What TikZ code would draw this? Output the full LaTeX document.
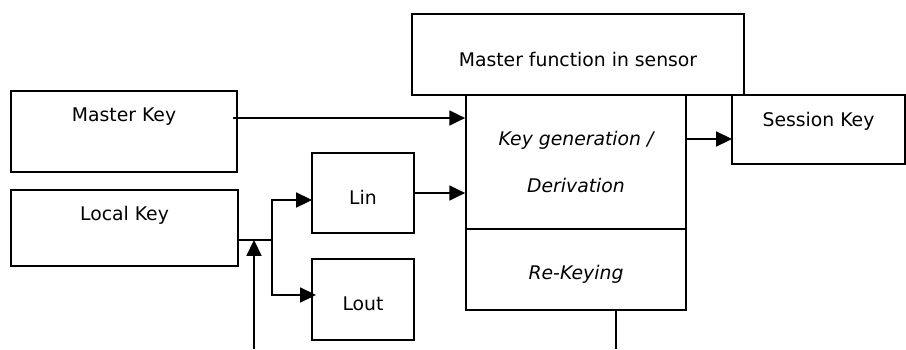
\documentclass[tikz,border=0pt]{standalone}
\usepackage{fontspec}
\setmainfont{DejaVu Sans}
\usetikzlibrary{arrows.meta}

\begin{document}
\begin{tikzpicture}[x=0.02cm,y=-0.02cm,text=black,
  flow/.style={-{Triangle[length=9pt,width=8.5pt]},line width=1pt},
  wire/.style={line width=1pt},
  box/.style={draw=black,fill=white,line width=1pt,inner sep=0pt},
  label/.style={font=\fontsize{10.7}{12}\selectfont},
  func/.style={font=\itshape\fontsize{10.7}{12}\selectfont}]
\useasboundingbox (0,0) rectangle (906,349);
\fill[white] (0,0) rectangle (906,349);

% KEY INPUTS ON THE LEFT
\node[box,minimum width=4.52cm,minimum height=1.62cm] (mkey) at (124,131.5) {};
\node[label] (mkeyt) at (124,117) {Master Key};
\node[box,minimum width=4.54cm,minimum height=1.52cm] (lkey) at (124.5,228) {};
\node[label] (lkeyt) at (124.5,215) {Local Key};
\node[box,minimum width=2.04cm,minimum height=1.60cm] (lin) at (363,193) {};
\node[label] (lint) at (363,197) {Lin};
\node[box,minimum width=2.04cm,minimum height=1.62cm] (lout) at (363,299.5) {};
\node[label] (loutt) at (363,304) {Lout};

% MASTER FUNCTION IN THE SENSOR
\node[box,minimum width=6.64cm,minimum height=1.62cm] (master) at (578,54.5) {};
\node[label] (mastert) at (578,59) {Master function in sensor};
\node[box,minimum width=4.40cm,minimum height=2.68cm] (keygen) at (576,162) {};
\node[func] (keygent) at (576,140) {Key generation /};
\node[func] (derivt) at (576,185) {Derivation};
\node[box,minimum width=4.40cm,minimum height=1.62cm] (rekey) at (576,269.5) {};
\node[func] (rekeyt) at (576,274) {Re-Keying};

% OUTPUT
\node[box,minimum width=3.46cm,minimum height=1.38cm] (sess) at (818.5,129.5) {};
\node[label] (sesst) at (818.5,121) {Session Key};

% CONNECTORS
\coordinate (mkeyout) at (233,118);
\coordinate (sessin) at (732,139);
\coordinate (split) at (272,240);
\coordinate (linin) at (312,200);
\coordinate (loutin) at (316,295);
\coordinate (feed) at (254,349);
\coordinate (rekeyout) at (616,349);
\draw[flow] (mkeyout) -- (mkeyout -| keygen.west);
\draw[flow] (lin.east) -- (lin.east -| keygen.west);
\draw[flow] (sessin -| keygen.east) -- (sessin);
\draw[wire] (lkey.east |- split) -- (split);
\draw[flow] (split) |- (linin);
\draw[flow] (split) |- (loutin);
\draw[flow] (feed) -- (feed |- split);
\draw[wire] (rekey.south -| rekeyout) -- (rekeyout);
\end{tikzpicture}
\end{document}
